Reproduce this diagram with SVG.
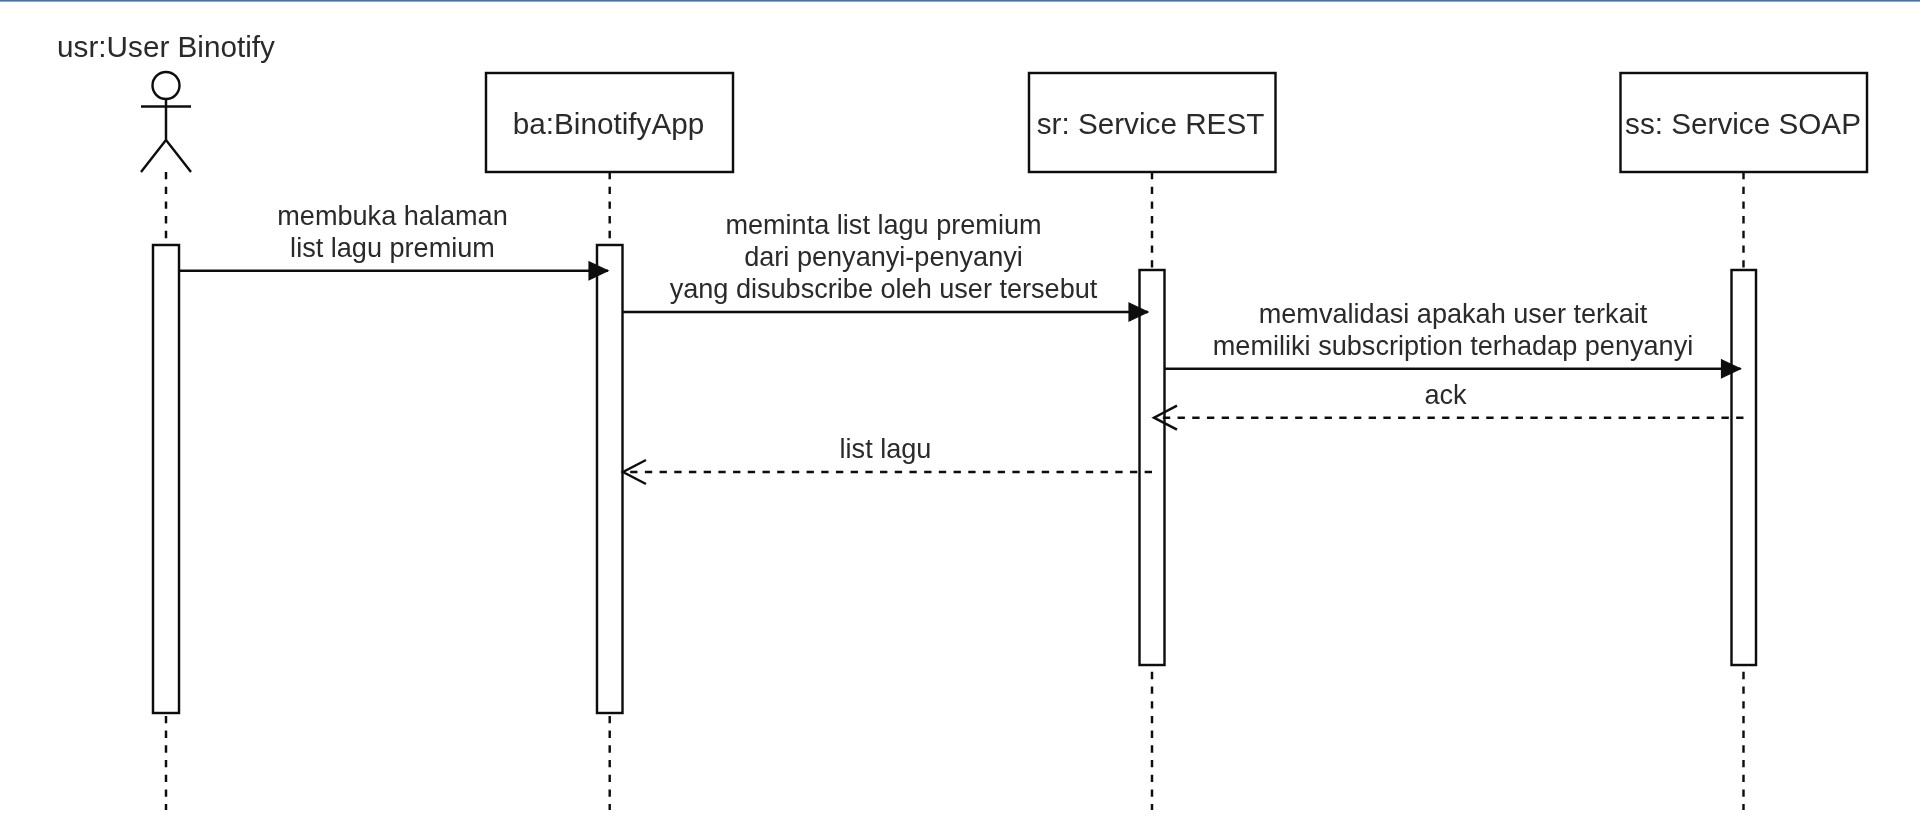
<svg xmlns="http://www.w3.org/2000/svg" width="1920" height="837" viewBox="0 0 1920 837">
<style>
.ln{fill:none;stroke:#111;stroke-width:2.45}
.box{fill:#fff;stroke:#111;stroke-width:2.45}
.life{fill:none;stroke:#111;stroke-width:2.45;stroke-dasharray:7.35 7.35}
.msg{fill:none;stroke:#111;stroke-width:2.45;marker-end:url(#block)}
.ret{fill:none;stroke:#111;stroke-width:2.45;stroke-dasharray:7.35 7.35;marker-end:url(#open)}
text{font-family:"Liberation Sans",Arial,sans-serif;fill:#2a2a2a;text-anchor:middle}
.t12{font-size:29.7px}
.t11{font-size:27.1px}
</style>
<defs>
<filter id="soft" filterUnits="userSpaceOnUse" x="0" y="0" width="1920" height="837"><feGaussianBlur stdDeviation="0.6"/></filter>
<marker id="block" markerUnits="userSpaceOnUse" markerWidth="24" markerHeight="24" refX="20" refY="12" orient="auto" overflow="visible">
<path d="M1 3 L20 12 L1 21 Z" fill="#111" stroke="#111" stroke-width="1.2"/>
</marker>
<marker id="open" markerUnits="userSpaceOnUse" markerWidth="30" markerHeight="30" refX="0" refY="0" orient="auto" overflow="visible">
<path d="M-23 -12 L0 0 L-23 12" fill="none" stroke="#111" stroke-width="2.45"/>
</marker>
</defs>
<rect id="topbar" x="0" y="0" width="1920" height="1.6" fill="#3d74b5"/>
<g id="diagram" filter="url(#soft)">
<g id="lifelines">
<path class="life" d="M166 172V810"/>
<path class="life" d="M609.7 172V810"/>
<path class="life" d="M1152 172V810"/>
<path class="life" d="M1743.5 172V810"/>
</g>
<g id="usr">
<text class="t12" x="166" y="57">usr:User Binotify</text>
<ellipse class="ln" cx="166" cy="85.5" rx="13.5" ry="13.5"/>
<path class="ln" d="M166 99V140M141 106.5H191M141 172L166 140L191 172"/>
<rect class="box" x="153" y="245" width="26" height="468"/>
</g>
<g id="ba">
<rect class="box" x="486" y="73" width="247" height="99"/>
<text class="t12" x="608.500" y="134">ba:BinotifyApp</text>
<rect class="box" x="597" y="245" width="25.5" height="468"/>
</g>
<g id="sr">
<rect class="box" x="1029" y="73" width="246.500" height="99"/>
<text class="t12" x="1150.500" y="134">sr: Service REST</text>
<rect class="box" x="1139.500" y="270" width="25" height="395"/>
</g>
<g id="ss">
<rect class="box" x="1620.500" y="73" width="246.500" height="99"/>
<text class="t12" x="1743" y="134">ss: Service SOAP</text>
<rect class="box" x="1731.500" y="270" width="24.500" height="395"/>
</g>
<g id="connectors">
<path class="msg" d="M179 270.700H608"/>
<path class="msg" d="M622.500 312H1148"/>
<path class="msg" d="M1164.500 368.700H1740.500"/>
<path class="ret" d="M1743.500 417.700H1154"/>
<path class="ret" d="M1152 472H623"/>
</g>
<g id="labels">
<text class="t11" x="392.500" y="225">membuka halaman</text>
<text class="t11" x="392.500" y="256.500">list lagu premium</text>
<text class="t11" x="883.500" y="234">meminta list lagu premium</text>
<text class="t11" x="883.500" y="266">dari penyanyi-penyanyi</text>
<text class="t11" x="883.500" y="298">yang disubscribe oleh user tersebut</text>
<text class="t11" x="1453" y="322.700">memvalidasi apakah user terkait</text>
<text class="t11" x="1453" y="355">memiliki subscription terhadap penyanyi</text>
<text class="t11" x="1445.500" y="404">ack</text>
<text class="t11" x="885.500" y="458">list lagu</text>
</g>
</g>
</svg>
